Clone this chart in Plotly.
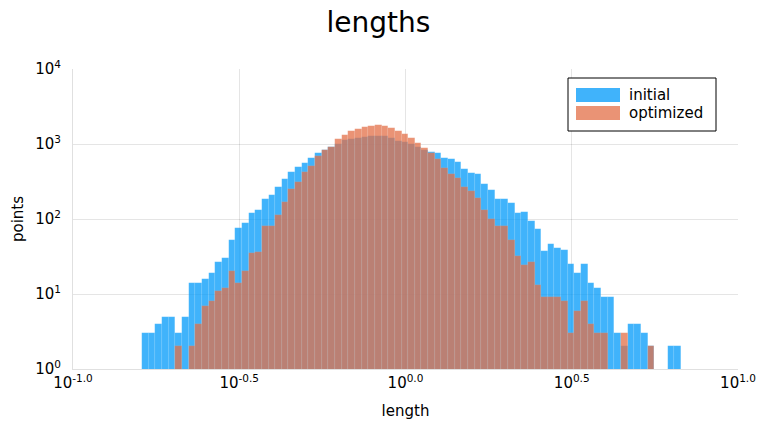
import numpy as np
import plotly.graph_objects as go

# histogram bins: equal widths in log10(length)
bin_start_log10 = -0.792
bin_width_log10 = 0.02

initial_counts = [3, 3, 4, 5, 5, 3, 5, 14, 14, 16, 19, 27, 30, 53, 75, 89, 122, 132, 183, 208,
                  265, 340, 418, 498, 562, 650, 750, 840, 925, 1000, 1130, 1150, 1213, 1230, 1279, 1279, 1270, 1200, 1089, 1073,
                  1009, 920, 839, 789, 750, 650, 630, 575, 459, 410, 402, 293, 244, 185, 183, 163, 120, 123, 95, 74,
                  38, 46, 41, 39, 25, 19, 25, 14, 12, 9, 9, 3, 2, 4, 4, 3, 2, 0, 0, 2, 2]

optimized_counts = [0, 0, 0, 0, 0, 2, 0, 2, 4, 7, 8, 11, 12, 20, 14, 20, 35, 36, 81, 80,
                    113, 171, 252, 310, 422, 513, 690, 832, 925, 1176, 1330, 1495, 1585, 1667, 1760, 1770, 1740, 1610, 1495, 1360,
                    1195, 1035, 893, 750, 631, 479, 400, 352, 267, 238, 188, 133, 101, 81, 81, 52, 32, 24, 27, 13,
                    9, 9, 9, 8, 3, 6, 8, 4, 3, 3, 0, 0, 3, 0, 0, 0, 2]

series_names = ["initial", "optimized"]
series_colors = ["rgba(0,154,250,0.75)", "rgba(227,111,71,0.75)"]

x_tick_exponents = [-1.0, -0.5, 0.0, 0.5, 1.0]
x_tick_labels = ["10<sup>-1.0</sup>", "10<sup>-0.5</sup>", "10<sup>0.0</sup>", "10<sup>0.5</sup>", "10<sup>1.0</sup>"]
y_tick_exponents = [0, 1, 2, 3, 4]
y_tick_labels = ["10<sup>0</sup>", "10<sup>1</sup>", "10<sup>2</sup>", "10<sup>3</sup>", "10<sup>4</sup>"]


def bars(counts):
    n = len(counts)
    lo = 10 ** (bin_start_log10 + bin_width_log10 * np.arange(n))
    hi = 10 ** (bin_start_log10 + bin_width_log10 * (np.arange(n) + 1))
    centers = (lo + hi) / 2
    widths = hi - lo
    vals = [c if c > 0 else None for c in counts]
    return centers, widths, vals


fig = go.Figure()
for name, counts, color in zip(series_names, [initial_counts, optimized_counts], series_colors):
    cx, w, v = bars(counts)
    fig.add_trace(go.Bar(x=cx, y=v, width=w, name=name, showlegend=False,
                         marker=dict(color=color, line=dict(color="rgba(255,255,255,0.15)", width=0.5))))

# legend drawn as a framed box with wide colour patches (paper coordinates)
W, H = 757, 425
L, R, T, B = 73, 19, 69, 56
pw, ph = W - L - R, H - T - B


def px(x):
    return (x - L) / pw


def py(y):
    return (H - B - y) / ph


shapes = [dict(type="rect", xref="paper", yref="paper", x0=px(568), x1=px(716), y0=py(131), y1=py(78),
               line=dict(color="black", width=1), fillcolor="white", layer="above")]
annotations = []
for i, (name, color) in enumerate(zip(series_names, series_colors)):
    yc = 95 + 18 * i
    shapes.append(dict(type="rect", xref="paper", yref="paper", x0=px(576), x1=px(620),
                       y0=py(yc + 7), y1=py(yc - 7), line=dict(width=0), fillcolor=color, layer="above"))
    annotations.append(dict(text=name, xref="paper", yref="paper", x=px(627), y=py(yc), xanchor="left",
                            yanchor="middle", showarrow=False, font=dict(size=15, color="black")))

fig.update_layout(
    width=W, height=H,
    barmode="overlay",
    plot_bgcolor="white", paper_bgcolor="white",
    margin=dict(l=L, r=R, t=T, b=B),
    font=dict(family="DejaVu Sans", size=14, color="black"),
    title=dict(text="lengths", x=0.5, xref="container", xanchor="center", y=0.948, yanchor="middle",
               font=dict(size=28, color="black")),
    showlegend=False,
    bargap=0,
    shapes=shapes,
    annotations=annotations,
)
fig.update_xaxes(type="log", range=[-1, 1], tickvals=[10 ** e for e in x_tick_exponents], ticktext=x_tick_labels,
                 showgrid=True, gridcolor="rgba(0,0,0,0.1)", gridwidth=1, zeroline=False, automargin=False,
                 showline=True, linecolor="rgba(0,0,0,0.12)", ticks="",
                 title=dict(text="length", font=dict(size=15), standoff=14), tickfont=dict(size=15))
fig.update_yaxes(type="log", range=[0, 4], tickvals=[10 ** e for e in y_tick_exponents], ticktext=y_tick_labels,
                 showgrid=True, gridcolor="rgba(0,0,0,0.1)", gridwidth=1, zeroline=False, automargin=False,
                 showline=True, linecolor="rgba(0,0,0,0.12)", ticks="", ticklabelstandoff=8,
                 title=dict(text="points", font=dict(size=15), standoff=7), tickfont=dict(size=15))

fig.write_html("out.html")
